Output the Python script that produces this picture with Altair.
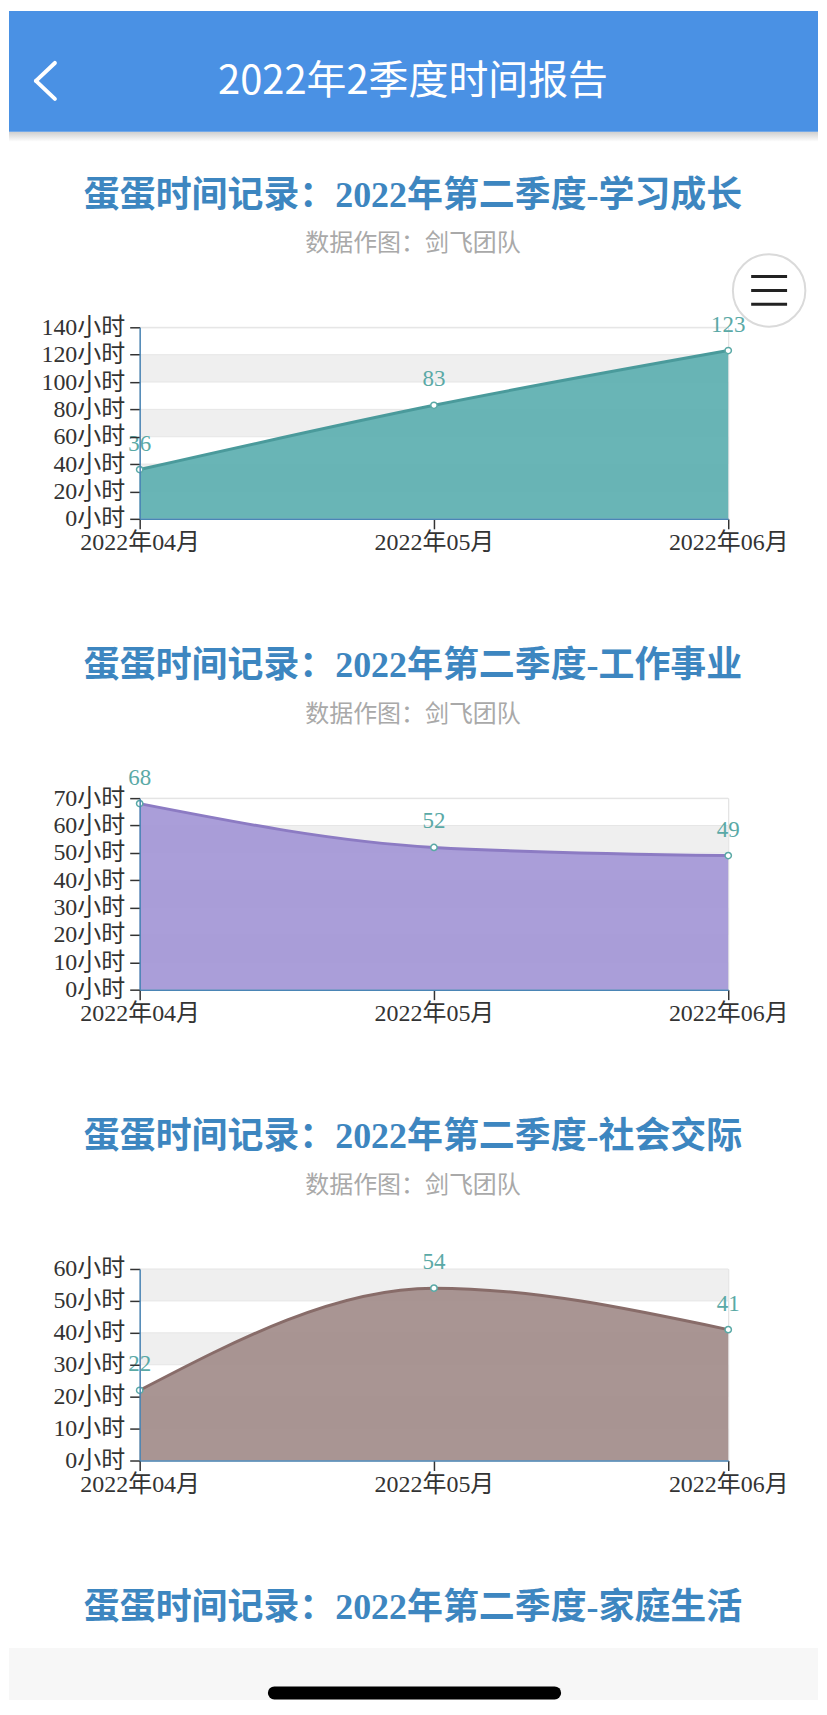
import altair as alt
import pandas as pd

# ---------------- data ----------------
months = ["2022年04月", "2022年05月", "2022年06月"]
study_hours = [36, 83, 123]
work_hours = [68, 52, 49]
social_hours = [22, 54, 41]

study_ticks = [0, 20, 40, 60, 80, 100, 120, 140]
work_ticks = [0, 10, 20, 30, 40, 50, 60, 70]
social_ticks = [0, 10, 20, 30, 40, 50, 60]

study_band_lo = [20, 60, 100]
study_band_hi = [40, 80, 120]
work_band_lo = [10, 30, 50]
work_band_hi = [20, 40, 60]
social_band_lo = [10, 30, 50]
social_band_hi = [20, 40, 60]

page_title = "2022年2季度时间报告"
chart_titles = [
    "蛋蛋时间记录：2022年第二季度-学习成长",
    "蛋蛋时间记录：2022年第二季度-工作事业",
    "蛋蛋时间记录：2022年第二季度-社会交际",
    "蛋蛋时间记录：2022年第二季度-家庭生活",
]
subtitle = "数据作图：剑飞团队"

fills = ["#5eafb0", "#a497d6", "#a38d8b"]
strokes = ["#4a9a9b", "#8c7bc3", "#886c69"]

# ---------------- style ----------------
W, H = 590, 192
SERIF = "Liberation Serif, Noto Sans CJK SC"
SANS = "Noto Sans CJK SC"
TEAL = "#5aa9a6"
AXIS_BLUE = "#4a85b5"


def one(text=""):
    return pd.DataFrame({"t": [text]})


def text_at(text, x, y, size, color, font, weight="normal"):
    return alt.Chart(one(text)).mark_text(
        fontSize=size, color=color, font=font, fontWeight=weight,
        align="center", baseline="middle"
    ).encode(x=alt.value(x), y=alt.value(y), text="t:N")


def rect_at(x, x2, y, y2, color, **kw):
    return alt.Chart(one()).mark_rect(color=color, **kw).encode(
        x=alt.value(x), x2=alt.value(x2), y=alt.value(y), y2=alt.value(y2))


def rule_at(x, x2, y, y2, color, width, cap="butt"):
    return alt.Chart(one()).mark_rule(color=color, strokeWidth=width, strokeCap=cap).encode(
        x=alt.value(x), x2=alt.value(x2), y=alt.value(y), y2=alt.value(y2))


def panel(values, ticks, band_lo, band_hi, fill, stroke, title):
    df = pd.DataFrame({"month": months, "hours": values})
    xenc = alt.X(
        "month:N", sort=months,
        scale=alt.Scale(type="point", padding=0),
        axis=alt.Axis(
            title=None, labelAngle=0, labelFont=SERIF, labelFontSize=24,
            labelColor="#333333", labelPadding=2, tickSize=10, tickColor="#333333",
            tickWidth=1.5, domainColor=AXIS_BLUE, domainWidth=1.5,
            labelFlush=False, labelOverlap=False, grid=False, zindex=1,
        ),
    )
    yscale = alt.Scale(domain=[ticks[0], ticks[-1]], nice=False, zero=True)
    yenc = alt.Y(
        "hours:Q", scale=yscale,
        axis=alt.Axis(
            title=None, values=ticks, labelExpr="datum.value + '小时'",
            labelFont=SERIF, labelFontSize=24, labelColor="#333333",
            labelPadding=5, tickSize=10, tickColor="#333333", tickWidth=1.5,
            domainColor=AXIS_BLUE, domainWidth=1.5, labelFlush=False,
            labelOverlap=False, grid=False, zindex=1,
        ),
    )
    bands_df = pd.DataFrame({"hours": band_lo, "hours_end": band_hi})
    bands = alt.Chart(bands_df).mark_rect(color="#efefef").encode(
        x=alt.value(0), x2=alt.value(W), y=yenc, y2="hours_end:Q")
    grid = alt.Chart(pd.DataFrame({"hours": ticks})).mark_rule(
        color="#e6e6e6", strokeWidth=1).encode(
        x=alt.value(0), x2=alt.value(W), y=yenc)
    area = alt.Chart(df).mark_area(
        interpolate="monotone", color=fill, opacity=0.93).encode(x=xenc, y=yenc)
    line = alt.Chart(df).mark_line(
        interpolate="monotone", color=stroke, strokeWidth=3).encode(x=xenc, y=yenc)
    pts = alt.Chart(df).mark_point(
        filled=True, fill="white", stroke=TEAL, strokeWidth=1.5, size=40,
        opacity=1).encode(x=xenc, y=yenc)
    labels = alt.Chart(df).mark_text(
        font=SERIF, fontSize=23, color=TEAL, baseline="alphabetic", dy=-19
    ).encode(x=xenc, y=yenc, text="hours:Q")
    ttl = text_at(title, 274, -132, 36, "#3d86c0", SERIF, "bold")
    sub = text_at(subtitle, 274, -83, 24, "#a9a9a9", SANS)
    return [bands, grid, area, line, pts, labels, ttl, sub]


# panel 1 with the app header and floating menu button
p1_layers = panel(study_hours, study_ticks, study_band_lo, study_band_hi,
                  fills[0], strokes[0], chart_titles[0])
shadow = alt.Chart(one()).mark_rect(
    color=alt.LinearGradient(
        gradient="linear", x1=0, y1=0, x2=0, y2=1,
        stops=[alt.GradientStop(color="#cfcfcf", offset=0),
               alt.GradientStop(color="#ffffff", offset=1)])
).encode(x=alt.value(-131), x2=alt.value(680), y=alt.value(-196), y2=alt.value(-186))
header = rect_at(-131, 680, -317, -196, "#4a91e4")
arrow1 = rule_at(-85, -104, -265, -247, "white", 4, "round")
arrow2 = rule_at(-104, -85, -247, -229, "white", 4, "round")
head_title = text_at(page_title, 274, -246, 40, "white", SANS)
menu_circle = alt.Chart(one()).mark_circle(
    color="white", stroke="#dadada", strokeWidth=2, size=5280, opacity=1
).encode(x=alt.value(631), y=alt.value(-37))
menu_lines = [rule_at(613, 649, yy, yy, "#222222", 3) for yy in (-51, -37, -23)]
p1 = alt.layer(*p1_layers, shadow, header, arrow1, arrow2, head_title,
               menu_circle, *menu_lines).properties(width=W, height=H)

p2 = alt.layer(*panel(work_hours, work_ticks, work_band_lo, work_band_hi,
                      fills[1], strokes[1], chart_titles[1])).properties(width=W, height=H)

p3_layers = panel(social_hours, social_ticks, social_band_lo, social_band_hi,
                  fills[2], strokes[2], chart_titles[2])
title4 = text_at(chart_titles[3], 274, 340, 36, "#3d86c0", SERIF, "bold")
bottom_bar = rect_at(-131, 680, 380, 432, "#f7f7f7")
pill = rule_at(135, 416, 425, 425, "#000000", 13, "round")
p3 = alt.layer(*p3_layers, title4, bottom_bar, pill).properties(width=W, height=H)

chart = alt.vconcat(p1, p2, p3, spacing=280, bounds="flush").properties(
    padding=0
).configure_view(stroke=None).configure(background="white")

chart.save("out.html", embed_options={"renderer": "svg", "actions": False})
